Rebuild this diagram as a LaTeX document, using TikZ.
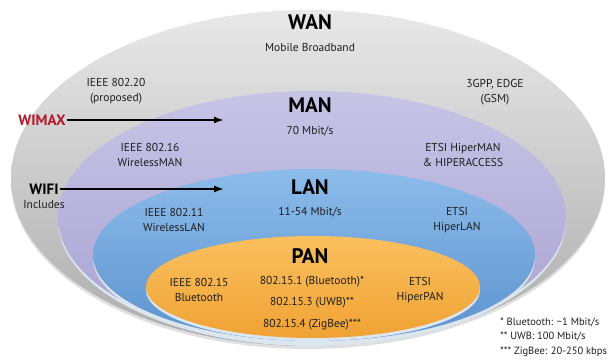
\documentclass[tikz,border=0pt]{standalone}
\usepackage{fontspec}
\setmainfont{PT Sans}
\usepackage{tikz}
\usetikzlibrary{arrows.meta, positioning}
\definecolor{ink}{HTML}{1E1E1E}
\definecolor{wimaxred}{HTML}{B3182B}
\definecolor{rim}{HTML}{DCE6EE}

\begin{document}
\begin{tikzpicture}[x=1pt, y=-1pt,
    every node/.style={font=\fontsize{11.5}{15}\selectfont, text=ink, align=center, inner sep=1pt},
    head/.style={font=\fontsize{21}{22}\selectfont\bfseries, text=black},
    tag/.style={font=\fontsize{15}{16}\selectfont\bfseries},
    pointer/.style={line width=1.8pt, -{Latex[length=10pt,width=7pt]}}]
    \useasboundingbox (0,0) rectangle (614,363);

    % Ringe (WAN > MAN > LAN > PAN)
    \fill[gray!25] (308,181) ellipse [x radius=297, y radius=168];
    \shade[top color=gray!18, bottom color=gray!65] (308,178) ellipse [x radius=297, y radius=168];
    \fill[rim] (312,220) ellipse [x radius=254, y radius=126];
    \shade[top color={rgb,255:red,200;green,196;blue,230}, bottom color={rgb,255:red,168;green,162;blue,210}] (312,217) ellipse [x radius=254, y radius=126];
    \fill[rim] (314,258) ellipse [x radius=221, y radius=86];
    \shade[top color={rgb,255:red,140;green,188;blue,234}, bottom color={rgb,255:red,92;green,146;blue,206}] (314,255) ellipse [x radius=221, y radius=86];
    \fill[rim] (313,290) ellipse [x radius=167, y radius=51];
    \shade[top color={rgb,255:red,250;green,192;blue,94}, bottom color={rgb,255:red,240;green,162;blue,52}] (313,287) ellipse [x radius=167, y radius=51];

    % WAN
    \node[head] (wan) at (310,22) {WAN};
    \node (wanspeed) at (310,48) {Mobile Broadband};
    \node (ieee20) at (116,91) {IEEE 802.20\\(proposed)};
    \node (gsm) at (495,92) {3GPP, EDGE\\(GSM)};

    % MAN
    \node[head] (man) at (310,105) {MAN};
    \node (manspeed) at (310,131) {70 Mbit/s};
    \node (ieee16) at (150,155) {IEEE 802.16\\WirelessMAN};
    \node (hiperman) at (463,155) {ETSI HiperMAN\\\& HIPERACCESS};

    % LAN
    \node[head] (lan) at (310,187) {LAN};
    \node (lanspeed) at (310,212) {11-54 Mbit/s};
    \node (ieee11) at (174,220) {IEEE 802.11\\WirelessLAN};
    \node (hiperlan) at (457,220) {ETSI\\HiperLAN};

    % PAN
    \node[head] (pan) at (310,256) {PAN};
    \node (ieee15) at (199,290) {IEEE 802.15\\Bluetooth};
    \node (bt) at (312,282) {802.15.1 (Bluetooth)*};
    \node (uwb) at (312,303) {802.15.3 (UWB)**};
    \node (zigbee) at (312,325) {802.15.4 (ZigBee)***};
    \node (hiperpan) at (420,290) {ETSI\\HiperPAN};

    % Pfeile
    \node[tag, text=wimaxred] (wimax) at (42,120) {WIMAX};
    \coordinate (wimaxend) at (224,120);
    \draw[pointer] (wimax) -- (wimaxend);
    \node[tag, text=black] (wifi) at (44,189) {WIFI};
    \node[below=4pt of wifi] (includes) {Includes};
    \coordinate (wifiend) at (224,189);
    \draw[pointer] (wifi) -- (wifiend);

    % Fussnoten
    \node[anchor=west, align=left, font=\fontsize{10.5}{14.5}\selectfont] (notes) at (499,337)
        {* Bluetooth: \textasciitilde1 Mbit/s\\** UWB: 100 Mbit/s\\*** ZigBee: 20-250 kbps};
\end{tikzpicture}
\end{document}
